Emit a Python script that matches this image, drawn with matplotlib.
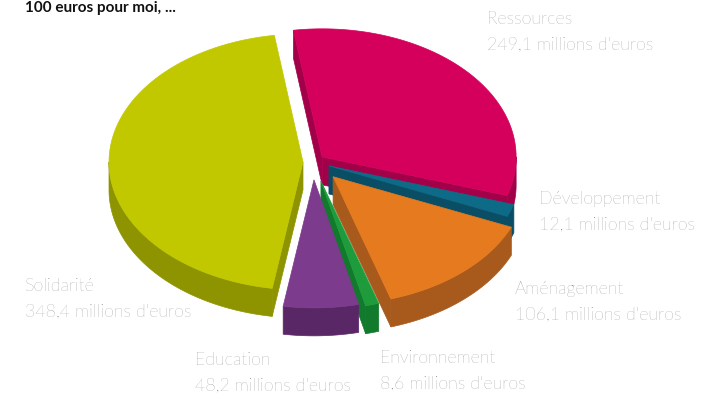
import numpy as np
import matplotlib
matplotlib.use("Agg")
import matplotlib.pyplot as plt
from matplotlib.patches import Polygon

# ---- data ----
categories = ["Ressources", "Développement", "Aménagement", "Environnement", "Education", "Solidarité"]
values = [249.1, 12.1, 106.1, 8.6, 48.2, 348.4]
value_labels = ["249,1 millions d'euros", "12,1 millions d'euros", "106,1 millions d'euros",
                "8,6 millions d'euros", "48,2 millions d'euros", "348,4 millions d'euros"]
top_colors = ["#D5005B", "#0E6B88", "#E57A1F", "#1E9C3C", "#7C3B8C", "#C1C800"]
side_colors = ["#A3004A", "#0A4E66", "#A85A1C", "#127A2C", "#5A2766", "#8E9400"]
explode = [12, 17, 30, 30, 27, 10]
title_text = "100 euros pour moi, ..."

# ---- layout ----
W, H = 716, 405
cx, cy = 313, 162
R = 194
K = 0.66
DEPTH = 28
start_angle = 98.5

label_pos = {
    "Ressources": (487, 19),
    "Développement": (539, 199),
    "Aménagement": (515, 289),
    "Environnement": (380, 358),
    "Education": (195, 360),
    "Solidarité": (25, 286),
}

fig = plt.figure(figsize=(W / 100, H / 100), dpi=100)
ax = fig.add_axes([0, 0, 1, 1])
ax.set_xlim(0, W)
ax.set_ylim(H, 0)
ax.axis("off")

total = sum(values)
angles = []
a = start_angle
for v in values:
    span = 360.0 * v / total
    angles.append((a - span, a))
    a -= span


def pt(t, ox, oy, dz=0.0):
    tr = np.radians(t)
    return (cx + ox + R * np.cos(tr), cy + oy - K * R * np.sin(tr) + dz)


def arc(t1, t2, ox, oy, dz=0.0, n=80):
    ts = np.linspace(t1, t2, n)
    return [pt(t, ox, oy, dz) for t in ts]


slices = []
for i, (a1, a2) in enumerate(angles):
    m = np.radians((a1 + a2) / 2)
    ox = explode[i] * np.cos(m)
    oy = -explode[i] * K * np.sin(m)
    slices.append((i, a1, a2, ox, oy, np.sin(m)))

# painter's order: back first
order = sorted(slices, key=lambda s: -s[5])

for (i, a1, a2, ox, oy, _) in order:
    tip = (cx + ox, cy + oy)
    tipb = (cx + ox, cy + oy + DEPTH)
    # radial faces
    for t, side in ((a1, -1), (a2, +1)):
        normal = t + 90 * side
        if np.sin(np.radians(normal)) < 0:
            p1 = pt(t, ox, oy)
            p2 = pt(t, ox, oy, DEPTH)
            poly = Polygon([tip, p1, p2, tipb], closed=True, facecolor=side_colors[i],
                           edgecolor=side_colors[i], lw=0.5, zorder=1)
            ax.add_patch(poly)
    # outer side (front-facing part)
    lo, hi = a1, a2
    ranges = []
    for base in (-360, 0, 360):
        f1, f2 = -180 + base, 0 + base
        s1, s2 = max(lo, f1), min(hi, f2)
        if s2 > s1:
            ranges.append((s1, s2))
    for (s1, s2) in ranges:
        top = arc(s1, s2, ox, oy)
        bot = arc(s1, s2, ox, oy, DEPTH)[::-1]
        poly = Polygon(top + bot, closed=True, facecolor=side_colors[i],
                       edgecolor=side_colors[i], lw=0.5, zorder=1)
        ax.add_patch(poly)
    # top face
    poly = Polygon([tip] + arc(a1, a2, ox, oy), closed=True, facecolor=top_colors[i],
                   edgecolor=top_colors[i], lw=0.5, zorder=1)
    ax.add_patch(poly)

font = dict(family=["Lato", "DejaVu Sans"], fontweight="light", color="#747474", fontsize=12.8)
for name, vl in zip(categories, value_labels):
    x, y = label_pos[name]
    ax.text(x, y, name, ha="left", va="center", **font)
    ax.text(x, y + 26, vl, ha="left", va="center", **font)

ax.text(25, 12, title_text, ha="left", va="baseline", fontsize=11, fontweight="bold",
        color="#111111", family=["Lato", "DejaVu Sans"])

fig.savefig("out.png", dpi=100)
